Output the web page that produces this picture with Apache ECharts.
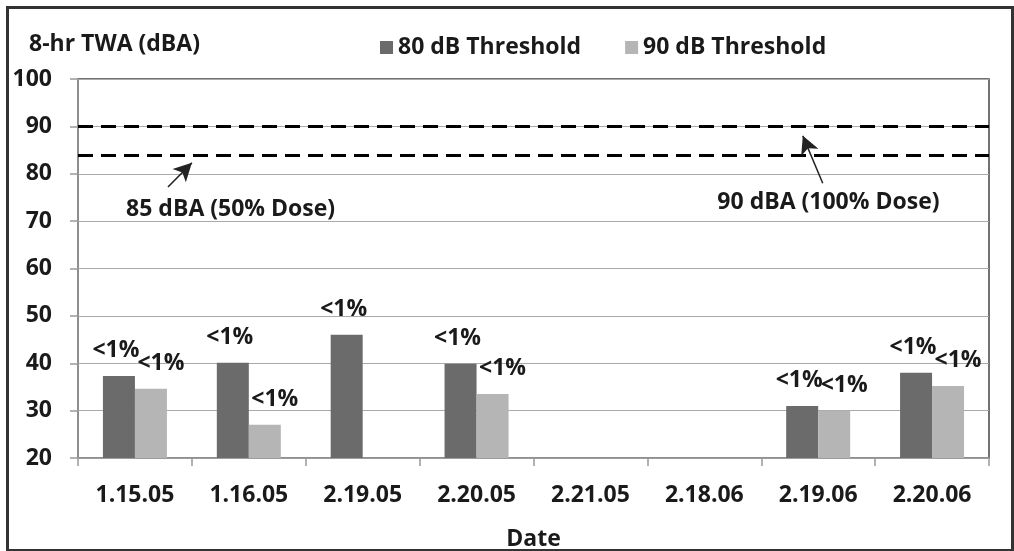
<!DOCTYPE html>
<html>
<head>
<meta charset="utf-8">
<script src="https://cdn.jsdelivr.net/npm/echarts@6/dist/echarts.min.js"></script>
<style>html,body{margin:0;padding:0;background:#fff;}#c{width:1014px;height:551px;}</style>
</head>
<body>
<div id="c"></div>
<script>
const categories = ['1.15.05','1.16.05','2.19.05','2.20.05','2.21.05','2.18.06','2.19.06','2.20.06'];
const threshold80 = [37.3, 40.1, 46.0, 39.9, null, null, 31.0, 38.0];
const threshold90 = [34.6, 27.0, null, 33.5, null, null, 30.0, 35.2];
const doseLabel80 = ['<1%','<1%','<1%','<1%','','','<1%','<1%'];
const doseLabel90 = ['<1%','<1%','','<1%','','','<1%','<1%'];
const seriesNames = ['80 dB Threshold','90 dB Threshold'];
const refLines = [90, 84];
const yMin = 20, yMax = 100, yStep = 10;
// annotation notes (x in category units from left edge, y in dBA)
const noteTexts = ['85 dBA (50% Dose)', '90 dBA (100% Dose)'];
const noteTextX = [1.34, 6.59];
const noteTextY = [72.4, 74.0];
const arrowFromX = [0.79, 6.54];
const arrowFromY = [77.2, 78.0];
const arrowToX = [1.0, 6.365];
const arrowToY = [82.3, 88.0];

const FONT = 'Open Sans';
const chart = echarts.init(document.getElementById('c'), null, {renderer:'canvas'});
const txt = {fontFamily: FONT, fontWeight: 'bold', color: '#1a1a1a'};
const FS = 23;

const option = {
  backgroundColor: '#fff',
  animation: false,
  textStyle: {fontFamily: FONT},
  title: {
    text: '8-hr TWA (dBA)', left: 24, top: 28,
    textStyle: Object.assign({fontSize: FS}, txt)
  },
  legend: {
    data: seriesNames, left: 375, top: 31, itemWidth: 13, itemHeight: 13, itemGap: 44,
    icon: 'rect',
    textStyle: Object.assign({fontSize: FS}, txt)
  },
  grid: {left: 78, top: 79, right: 25, bottom: 93, show: true, borderColor: '#444', borderWidth: 1.5,
    containLabel: false, outerBoundsMode: 'none'},
  xAxis: [{
    type: 'category', data: categories, boundaryGap: true,
    name: 'Date', nameLocation: 'middle', nameGap: 70,
    nameTextStyle: Object.assign({fontSize: FS}, txt),
    axisLine: {lineStyle: {color: '#999', width: 1.5}},
    axisTick: {show: true, length: 8, lineStyle: {color: '#999', width: 1.5}},
    axisLabel: Object.assign({fontSize: FS, margin: 26}, txt)
  }, {
    type: 'value', min: 0, max: categories.length, show: false
  }],
  yAxis: {
    type: 'value', min: yMin, max: yMax, interval: yStep,
    axisLine: {show: true, lineStyle: {color: '#999', width: 1.5}},
    axisTick: {show: true, length: 8, lineStyle: {color: '#999', width: 1.5}},
    axisLabel: Object.assign({fontSize: FS, margin: 26}, txt),
    splitLine: {show: true, lineStyle: {color: '#aaa', width: 1.2}}
  },
  series: [{
    name: seriesNames[0], type: 'bar', data: threshold80, barWidth: 32, barGap: '0%',
    itemStyle: {color: '#6b6b6b'},
    label: Object.assign({show: true, position: 'top', distance: 14, offset: [-3, 0], fontSize: FS,
      formatter: p => doseLabel80[p.dataIndex]}, txt)
  }, {
    name: seriesNames[1], type: 'bar', data: threshold90, barWidth: 32,
    itemStyle: {color: '#b5b5b5'},
    label: Object.assign({show: true, position: 'top', distance: 14, offset: [10, 0], fontSize: FS,
      formatter: p => doseLabel90[p.dataIndex]}, txt)
  }, {
    name: 'notes', type: 'scatter', xAxisIndex: 1, symbolSize: 1,
    itemStyle: {color: '#fff', opacity: 1},
    data: noteTexts.map((t, i) => [noteTextX[i], noteTextY[i], t]),
    label: Object.assign({show: true, position: 'inside', fontSize: FS, opacity: 1,
      formatter: p => p.value[2]}, txt),
    silent: true, z: 5
  }, {
    name: 'refs', type: 'line', xAxisIndex: 1, data: [], silent: true,
    markLine: {
      silent: true, symbol: ['none','none'], label: {show: false},
      lineStyle: {color: '#000', width: 3, type: [15, 8]},
      data: refLines.map(v => ({yAxis: v}))
    }
  }, {
    name: 'arrows', type: 'line', xAxisIndex: 1, data: [], silent: true,
    markLine: {
      silent: true, symbol: ['none','arrow'], symbolSize: [14, 18], label: {show: false},
      lineStyle: {color: '#222', width: 1.5, type: 'solid'},
      data: arrowFromX.map((x, i) => [{coord: [x, arrowFromY[i]]}, {coord: [arrowToX[i], arrowToY[i]]}])
    }
  }],
  graphic: [{
    type: 'rect', left: 5, top: 5, shape: {width: 1005, height: 543},
    style: {fill: 'none', stroke: '#333', lineWidth: 3}, silent: true
  }]
};
chart.setOption(option);
</script>
</body>
</html>
